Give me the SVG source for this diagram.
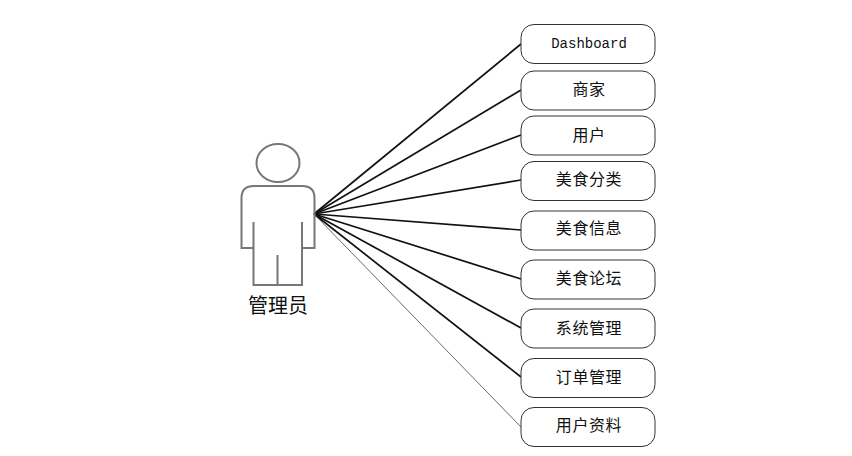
<svg xmlns="http://www.w3.org/2000/svg" width="852" height="456" viewBox="0 0 852 456">
<style>
.n{fill:#fff;stroke:#333;stroke-width:1}
.t{font-family:"Noto Sans CJK SC","DejaVu Sans",sans-serif;font-size:16px;letter-spacing:.6px;fill:#111;text-anchor:middle}
.m{font-family:"Liberation Mono","Noto Sans CJK SC",monospace;font-size:14px;fill:#111;text-anchor:middle}
.c{stroke:#111;fill:none;stroke-width:1.7}
.a{fill:none;stroke:#777;stroke-width:2}
</style>
<rect width="852" height="456" fill="#fff"/>
<g id="connectors">
<line class="c" x1="314" y1="214" x2="521" y2="44"/>
<line class="c" x1="314" y1="214" x2="521" y2="90"/>
<line class="c" x1="314" y1="214" x2="521" y2="135"/>
<line class="c" x1="314" y1="214" x2="521" y2="180"/>
<line class="c" x1="314" y1="214" x2="521" y2="230"/>
<line class="c" x1="314" y1="214" x2="521" y2="279"/>
<line class="c" x1="314" y1="214" x2="521" y2="328"/>
<line class="c" x1="314" y1="214" x2="521" y2="377"/>
<line x1="314" y1="214" x2="521" y2="427" stroke="#444" stroke-width="0.8"/>
</g>
<g id="actor">
<ellipse class="a" cx="278" cy="163" rx="21.500" ry="19"/>
<path class="a" d="M253 248H241.500V198Q241.500 186 254 186H302Q314.500 186 314.500 198V248H302M253.500 222V285H302V222M277.500 255V285"/>
<text x="278" y="313" font-family="Noto Sans CJK SC,sans-serif" font-size="20" fill="#111" text-anchor="middle">管理员</text>
</g>
<g id="n1"><rect class="n" x="521" y="24.500" width="134" height="39" rx="13"/><text class="m" x="589" y="48">Dashboard</text></g>
<g id="n2"><rect class="n" x="521" y="71" width="134" height="39" rx="13"/><text class="t" x="589" y="95">商家</text></g>
<g id="n3"><rect class="n" x="521" y="116" width="134" height="39" rx="13"/><text class="t" x="589" y="141">用户</text></g>
<g id="n4"><rect class="n" x="521" y="161.500" width="134" height="39" rx="13"/><text class="t" x="589" y="185">美食分类</text></g>
<g id="n5"><rect class="n" x="521" y="211" width="134" height="39" rx="13"/><text class="t" x="589" y="234">美食信息</text></g>
<g id="n6"><rect class="n" x="521" y="260" width="134" height="39" rx="13"/><text class="t" x="589" y="284">美食论坛</text></g>
<g id="n7"><rect class="n" x="521" y="309" width="134" height="39" rx="13"/><text class="t" x="589" y="334">系统管理</text></g>
<g id="n8"><rect class="n" x="521" y="358.500" width="134" height="39" rx="13"/><text class="t" x="589" y="383">订单管理</text></g>
<g id="n9"><rect class="n" x="521" y="407.500" width="134" height="39" rx="13"/><text class="t" x="589" y="431">用户资料</text></g>
</svg>
